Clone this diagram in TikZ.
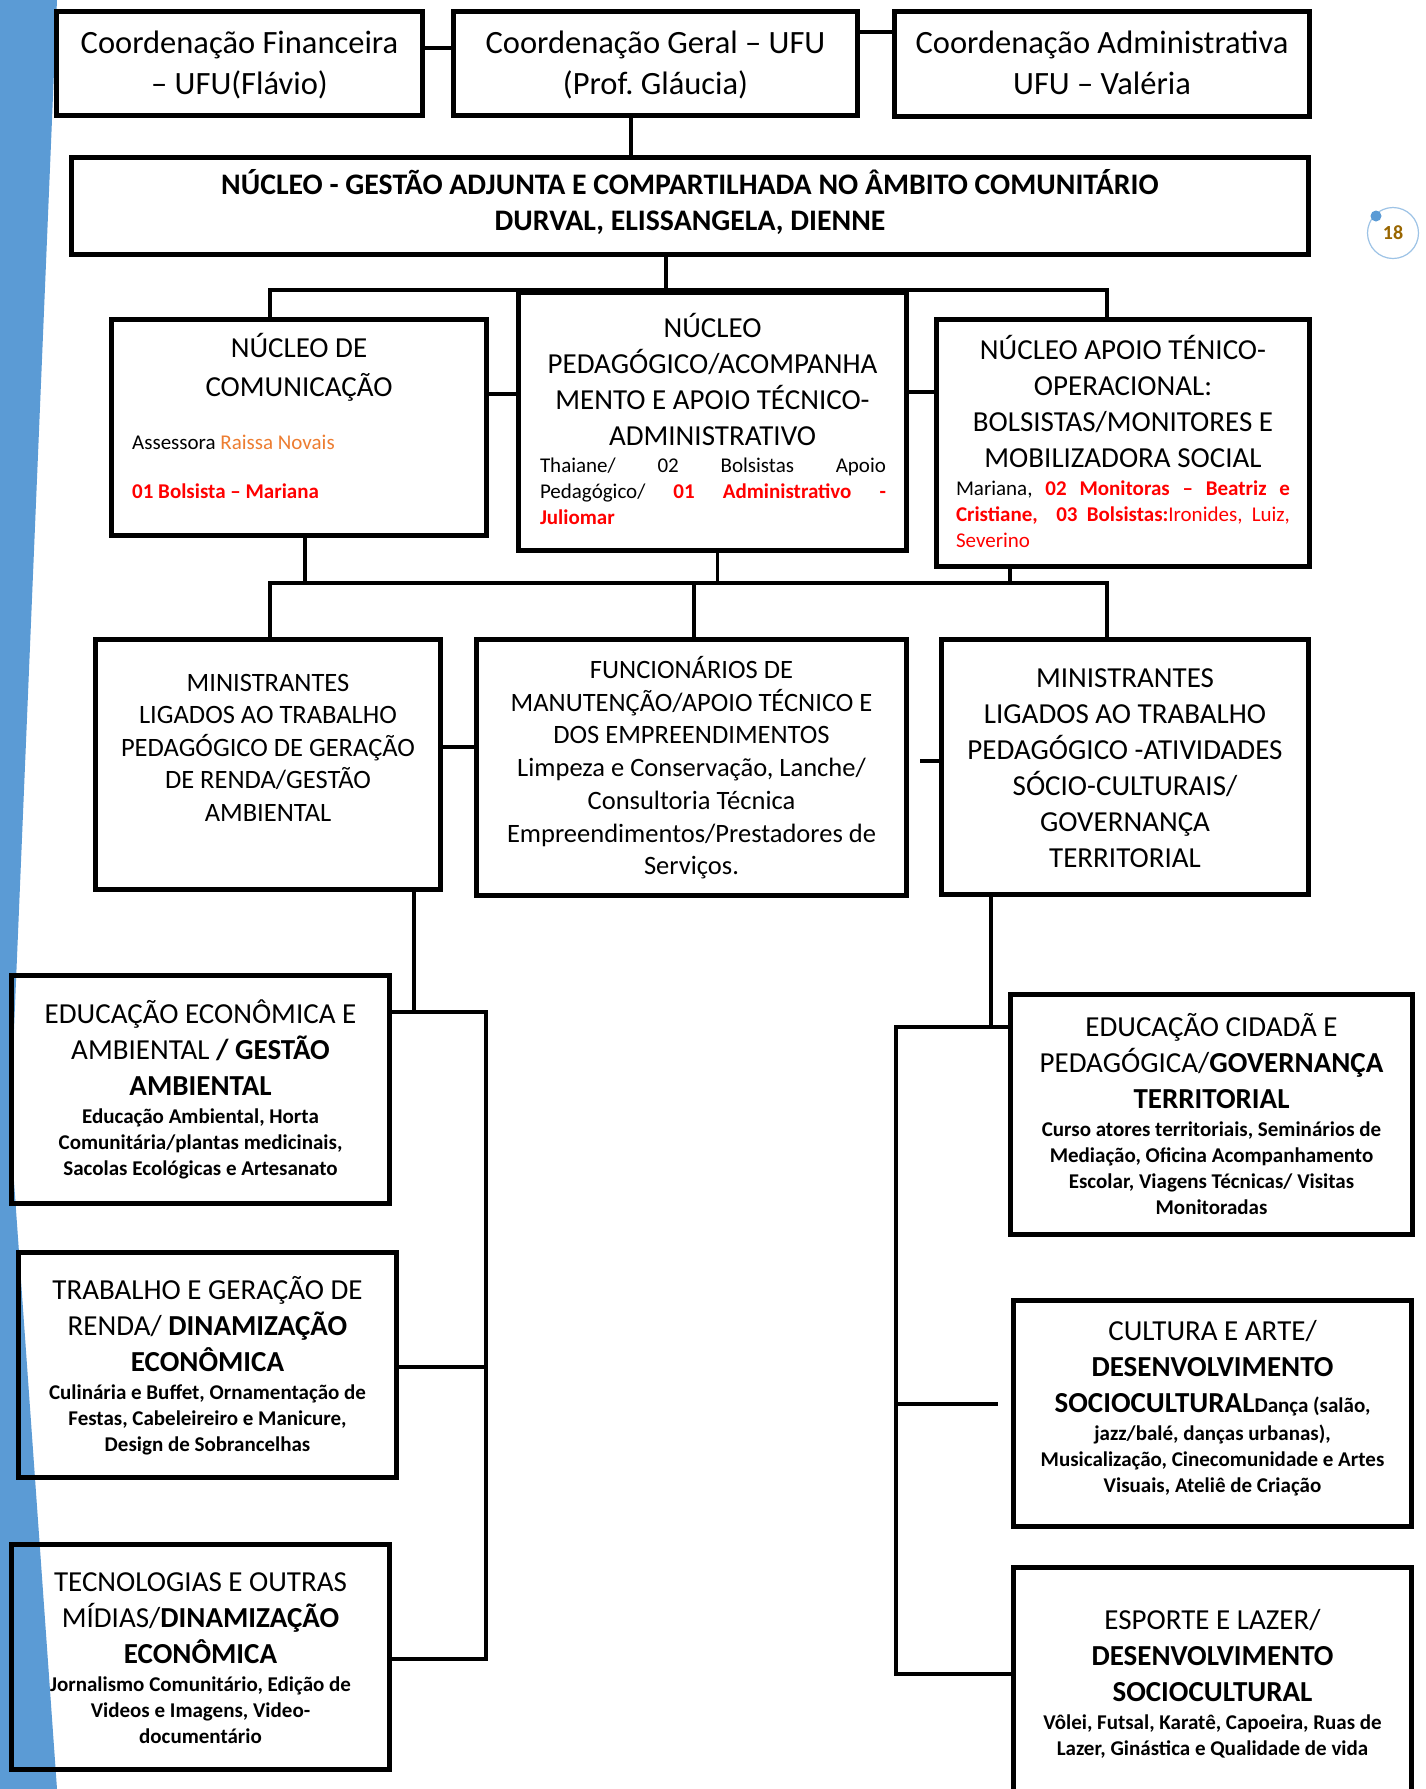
\documentclass[tikz,border=0pt]{standalone}
\usepackage{fontspec}
\setmainfont{Carlito}
\usepackage{xcolor}
\usepackage{tikz}
\usetikzlibrary{calc}
\definecolor{pageblue}{RGB}{91,155,213}
\definecolor{ringblue}{RGB}{157,195,230}
\definecolor{numgold}{RGB}{153,102,0}
\definecolor{assorange}{RGB}{237,125,49}
\newcommand\topfont{\fontsize{32.5}{41}\selectfont}
\newcommand\headfont{\fontsize{29}{36}\selectfont}
\newcommand\midfont{\fontsize{26.5}{32.7}\selectfont}
\newcommand\notefont{\fontsize{21}{26}\selectfont}
\newcommand\actlist{\par\vspace{2.4pt}\notefont\bfseries}
\frenchspacing

\begin{document}
\begin{tikzpicture}[x=1pt,y=-1pt,
  box/.style={draw,line width=5pt,inner sep=0pt},
  link/.style={line width=3.2pt},
  lbl/.style={anchor=base,align=flush center,inner sep=0pt,font=\headfont},
  memo/.style={anchor=base,align=flush left,inner sep=0pt,font=\notefont}]
\useasboundingbox (0,0) rectangle (1426,1789);
\clip (0,0) rectangle (1426,1789);
\fill[white] (0,0) rectangle (1426,1789);
\fill[pageblue] (0,0) -- (57,0) -- (10,1125) -- (57,1789) -- (0,1789) -- cycle;

% coordenacoes
\node[box,minimum width=366pt,minimum height=104pt] (fin) at (239.5,63.5) {};
\node[box,minimum width=404pt,minimum height=104pt] (geral) at (655.5,63.5) {};
\node[box,minimum width=415pt,minimum height=105pt] (adm) at (1102,64) {};
\node[lbl,font=\topfont,text width=360pt] (fin-t) at (fin |- 0,53) {Coordenação Financeira\\– UFU(Flávio)};
\node[lbl,font=\topfont,text width=398pt] (geral-t) at (geral |- 0,53) {Coordenação Geral – UFU\\(Prof. Gláucia)};
\node[lbl,font=\topfont,text width=409pt] (adm-t) at (adm |- 0,53) {Coordenação Administrativa\\UFU – Valéria};

\node[box,minimum width=1237pt,minimum height=97pt] (gest) at (690,206) {};
\node[lbl,font=\fontsize{29.8}{36}\selectfont\bfseries,text width=1220pt] (gest-t) at (gest |- 0,194) {NÚCLEO - GESTÃO ADJUNTA E COMPARTILHADA NO ÂMBITO COMUNITÁRIO\\DURVAL, ELISSANGELA, DIENNE};

% nucleos
\node[box,minimum width=375pt,minimum height=216pt] (com) at (299,427.5) {};
\node[box,minimum width=388pt,minimum height=258pt] (ped) at (712.5,421.5) {};
\node[box,minimum width=373pt,minimum height=247pt] (apo) at (1123,443) {};
\node[lbl,font=\fontsize{29}{39}\selectfont,text width=360pt] (com-t) at (com |- 0,357) {NÚCLEO DE\\COMUNICAÇÃO};
\node[memo,anchor=base west,text width=330pt] (com-m) at (132,449) {Assessora \textcolor{assorange}{Raissa Novais}\\[23pt]\textcolor{red}{\bfseries 01 Bolsista – Mariana}};
\node[lbl,text width=380pt] (ped-t) at (ped |- 0,337.6) {NÚCLEO\\PEDAGÓGICO/ACOMPANHA\\MENTO E APOIO TÉCNICO-\\ADMINISTRATIVO};
\node[memo,text width=346pt] (ped-m) at (713,472.6) {\makebox[346pt][s]{Thaiane/ 02 Bolsistas Apoio}\\\makebox[346pt][s]{Pedagógico/ \textcolor{red}{\bfseries 01 Administrativo -}}\\\textcolor{red}{\bfseries Juliomar}};
\node[lbl,text width=366pt] (apo-t) at (apo |- 0,359) {NÚCLEO APOIO TÉNICO-\\OPERACIONAL:\\BOLSISTAS/MONITORES E\\MOBILIZADORA SOCIAL};
\node[memo,text width=334pt] (apo-m) at (1123,495.6) {\makebox[334pt][s]{Mariana, \textcolor{red}{\bfseries 02 Monitoras – Beatriz e}}\\\makebox[334pt][s]{\color{red}\bfseries Cristiane,\ \ 03 Bolsistas:\mdseries Ironides, Luiz,}\\\textcolor{red}{Severino}};

% equipes
\node[box,minimum width=345pt,minimum height=250pt] (minl) at (268,764.5) {};
\node[box,minimum width=430pt,minimum height=256pt] (func) at (691.5,767.5) {};
\node[box,minimum width=367pt,minimum height=255pt] (minr) at (1125,767) {};
\node[lbl,font=\fontsize{26.5}{32.5}\selectfont,text width=340pt] (minl-t) at (minl |- 0,691.3) {MINISTRANTES\\LIGADOS AO TRABALHO\\PEDAGÓGICO DE GERAÇÃO\\DE RENDA/GESTÃO\\AMBIENTAL};
\node[lbl,font=\midfont,text width=420pt] (func-t) at (func |- 0,678.5) {FUNCIONÁRIOS DE\\MANUTENÇÃO/APOIO TÉCNICO E\\DOS EMPREENDIMENTOS\\Limpeza e Conservação, Lanche/\\Consultoria Técnica\\Empreendimentos/Prestadores de\\Serviços.};
\node[lbl,text width=360pt] (minr-t) at (minr |- 0,687) {MINISTRANTES\\LIGADOS AO TRABALHO\\PEDAGÓGICO -ATIVIDADES\\SÓCIO-CULTURAIS/\\GOVERNANÇA\\TERRITORIAL};

% areas
\node[box,minimum width=378pt,minimum height=228pt] (econ) at (200.5,1089.5) {};
\node[box,minimum width=378pt,minimum height=225pt] (trab) at (207.5,1365) {};
\node[box,minimum width=378pt,minimum height=225pt] (tec) at (200.5,1657) {};
\node[box,minimum width=402pt,minimum height=240pt] (cid) at (1211.5,1114.5) {};
\node[box,minimum width=398pt,minimum height=226pt] (cult) at (1212.5,1413.5) {};
\node[box,minimum width=398pt,minimum height=260pt] (esp) at (1212.5,1697.5) {};
\node[lbl,text width=370pt] (econ-t) at (econ |- 0,1023.3) {EDUCAÇÃO ECONÔMICA E\\AMBIENTAL \textbf{/ GESTÃO}\\\textbf{AMBIENTAL}\actlist Educação Ambiental, Horta\\Comunitária/plantas medicinais,\\Sacolas Ecológicas e Artesanato\par};
\node[lbl,text width=370pt] (trab-t) at (trab |- 0,1299) {TRABALHO E GERAÇÃO DE\\RENDA/ \textbf{DINAMIZAÇÃO}\\\textbf{ECONÔMICA}\actlist Culinária e Buffet, Ornamentação de\\Festas, Cabeleireiro e Manicure,\\Design de Sobrancelhas\par};
\node[lbl,text width=370pt] (tec-t) at (tec |- 0,1591) {TECNOLOGIAS E OUTRAS\\MÍDIAS/\textbf{DINAMIZAÇÃO}\\\textbf{ECONÔMICA}\actlist Jornalismo Comunitário, Edição de\\Videos e Imagens, Video-\\documentário\par};
\node[lbl,text width=396pt] (cid-t) at (cid |- 0,1036) {EDUCAÇÃO CIDADÃ E\\PEDAGÓGICA/\textbf{GOVERNANÇA}\\\textbf{TERRITORIAL}\actlist Curso atores territoriais, Seminários de\\Mediação, Oficina Acompanhamento\\Escolar, Viagens Técnicas/ Visitas\\Monitoradas\par};
\node[lbl,text width=392pt] (cult-t) at (cult |- 0,1340) {CULTURA E ARTE/\\\textbf{DESENVOLVIMENTO}\\\textbf{SOCIOCULTURAL}{\notefont\bfseries Dança (salão,}\actlist jazz/balé, danças urbanas),\\Musicalização, Cinecomunidade e Artes\\Visuais, Ateliê de Criação\par};
\node[lbl,text width=392pt] (esp-t) at (esp |- 0,1629) {ESPORTE E LAZER/\\\textbf{DESENVOLVIMENTO}\\\textbf{SOCIOCULTURAL}\actlist Vôlei, Futsal, Karatê, Capoeira, Ruas de\\Lazer, Ginástica e Qualidade de vida\par};

% ligacoes
\coordinate (bus1) at (666,290);
\coordinate (bus2) at (694,583);
\coordinate (lj) at (486,1012);
\coordinate (rj) at (896,1027);
\draw[link] (fin.east |- 0,48) -- (geral.west |- 0,48);
\draw[link] (geral.east |- 0,32) -- (adm.west |- 0,32);
\draw[link] (geral.south -| 631,0) -- (gest.north -| 631,0);
\draw[link] (gest.south -| bus1) -- (bus1);
\draw[link] (com.north -| 270,0) |- (bus1) -| (apo.north -| 1107,0);
\draw[link] (com.east |- 0,394) -- (ped.west |- 0,394);
\draw[link] (ped.east |- 0,392) -- (apo.west |- 0,392);
\draw[link] (minl.north -| 270,0) |- (bus2) -| (minr.north -| 1107,0);
\draw[link] (com.south -| 305,0) -- (bus2 -| 305,0);
\draw[link] (ped.south -| 717.5,0) -- (bus2 -| 717.5,0);
\draw[link] (apo.south -| 1010,0) -- (bus2 -| 1010,0);
\draw[link] (bus2) -- (func.north -| bus2);
\draw[link] (minl.east |- 0,747) -- (func.west |- 0,747);
\draw[link,shorten <=11pt] (func.east |- 0,761) -- (minr.west |- 0,761);
\draw[link] (minl.south -| 414,0) -- (lj -| 414,0);
\draw[link] (econ.east |- lj) -- (lj) |- (tec.east |- 0,1659);
\draw[link] (trab.east |- 0,1367) -- (lj |- 0,1367);
\draw[link] (minr.south -| 991,0) -- (rj -| 991,0);
\draw[link] (cid.west |- rj) -- (rj) |- (esp.west |- 0,1674);
\draw[link,shorten >=13pt] (rj |- 0,1404) -- (cult.west |- 0,1404);

% pagina
\node[circle,draw=ringblue,line width=1.2pt,minimum size=51pt,inner sep=0pt,font=\fontsize{20}{24}\selectfont\bfseries,text=numgold] (pg) at (1393,233) {18};
\fill[pageblue] (1376,216) circle (5.5);
\end{tikzpicture}
\end{document}
